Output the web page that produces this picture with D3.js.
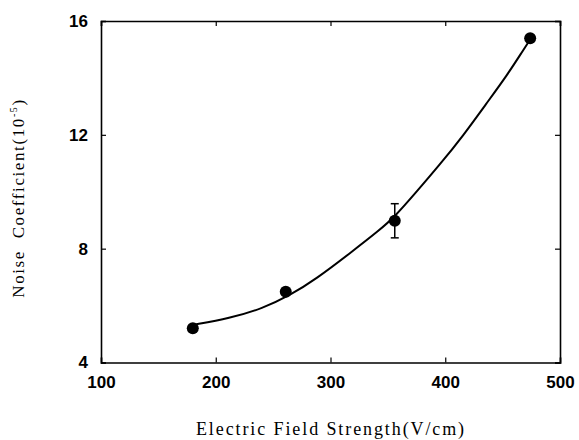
<!DOCTYPE html>
<html>
<head>
<meta charset="utf-8">
<script src="https://cdn.jsdelivr.net/npm/d3@7"></script>
<style>
  body { margin: 0; background: #fff; }
  .tick text { font-family: Arial, "Liberation Sans", sans-serif; font-weight: bold; font-size: 17px; }
  .title { font-family: "Liberation Serif", "Times New Roman", serif; }
</style>
</head>
<body>
<div id="container"></div>
<script>
// measured points
const fieldStrength = [180, 261, 356, 474];
const noiseCoef = [5.2, 6.49, 8.98, 15.39];
const errHalf = [0, 0, 0.6, 0];

// fitted curve
const curveX = [180, 212, 241, 265, 287, 317, 343, 356, 375, 395, 416, 436, 454, 468, 474];
const curveY = [5.32, 5.55, 5.9, 6.37, 6.92, 7.84, 8.66, 9.12, 10.0, 10.94, 11.99, 13.11, 14.1, 14.98, 15.35];

const xTicks = [100, 200, 300, 400, 500];
const yTicks = [4, 8, 12, 16];

const width = 579, height = 440;
const margin = {top: 21, right: 19, bottom: 77.5, left: 101};

const svg = d3.select('#container').append('svg')
  .attr('width', width)
  .attr('height', height);

const x = d3.scaleLinear().domain([100, 500]).range([margin.left, width - margin.right]);
const y = d3.scaleLinear().domain([4, 16]).range([height - margin.bottom, margin.top]);

// axes with inward ticks
svg.append('g')
  .attr('transform', `translate(0,${y(4)})`)
  .call(d3.axisBottom(x).tickValues(xTicks).tickSize(-5).tickPadding(13).tickFormat(d3.format('d')))
  .call(g => g.select('.domain').attr('stroke-width', 1.6));

svg.append('g')
  .attr('transform', `translate(${x(100)},0)`)
  .call(d3.axisLeft(y).tickValues(yTicks).tickSize(-5).tickPadding(13).tickFormat(d3.format('d')))
  .call(g => g.select('.domain').attr('stroke-width', 1.6));

svg.append('g')
  .attr('transform', `translate(0,${y(16)})`)
  .call(d3.axisTop(x).tickValues(xTicks).tickSize(-5).tickFormat(''))
  .call(g => g.select('.domain').attr('stroke-width', 1.6));

svg.append('g')
  .attr('transform', `translate(${x(500)},0)`)
  .call(d3.axisRight(y).tickValues(yTicks).tickSize(-5).tickFormat(''))
  .call(g => g.select('.domain').attr('stroke-width', 1.6));

svg.selectAll('.tick line').attr('stroke-width', 1.2);

// curve
const line = d3.line()
  .x(d => x(d[0]))
  .y(d => y(d[1]))
  .curve(d3.curveBasis);

svg.append('path')
  .datum(curveX.map((v, i) => [v, curveY[i]]))
  .attr('d', line)
  .attr('fill', 'none')
  .attr('stroke', '#000')
  .attr('stroke-width', 2);

// error bars
const errData = fieldStrength.map((v, i) => ({x: v, y: noiseCoef[i], e: errHalf[i]})).filter(d => d.e > 0);
const eb = svg.append('g').attr('stroke', '#000').attr('stroke-width', 1.5);
errData.forEach(d => {
  eb.append('line').attr('x1', x(d.x)).attr('x2', x(d.x)).attr('y1', y(d.y - d.e)).attr('y2', y(d.y + d.e));
  eb.append('line').attr('x1', x(d.x) - 4).attr('x2', x(d.x) + 4).attr('y1', y(d.y + d.e)).attr('y2', y(d.y + d.e));
  eb.append('line').attr('x1', x(d.x) - 4).attr('x2', x(d.x) + 4).attr('y1', y(d.y - d.e)).attr('y2', y(d.y - d.e));
});

// points
svg.append('g')
  .selectAll('circle')
  .data(fieldStrength.map((v, i) => [v, noiseCoef[i]]))
  .join('circle')
    .attr('cx', d => x(d[0]))
    .attr('cy', d => y(d[1]))
    .attr('r', 6)
    .attr('fill', '#000');

// axis titles
svg.append('text')
  .attr('class', 'title')
  .attr('x', 331)
  .attr('y', 435)
  .attr('text-anchor', 'middle')
  .style('font-size', '18px')
  .style('letter-spacing', '1.9px')
  .text('Electric Field Strength(V/cm)');

const yl = svg.append('text')
  .attr('class', 'title')
  .attr('transform', 'translate(24,198) rotate(-90)')
  .attr('text-anchor', 'middle')
  .style('font-size', '17px')
  .style('letter-spacing', '1.6px')
  .style('white-space', 'pre');
yl.append('tspan').text('Noise  Coefficient(10');
yl.append('tspan').style('font-size', '10px').attr('dy', -7).text('-5');
yl.append('tspan').attr('dy', 7).text(')');
</script>
</body>
</html>
